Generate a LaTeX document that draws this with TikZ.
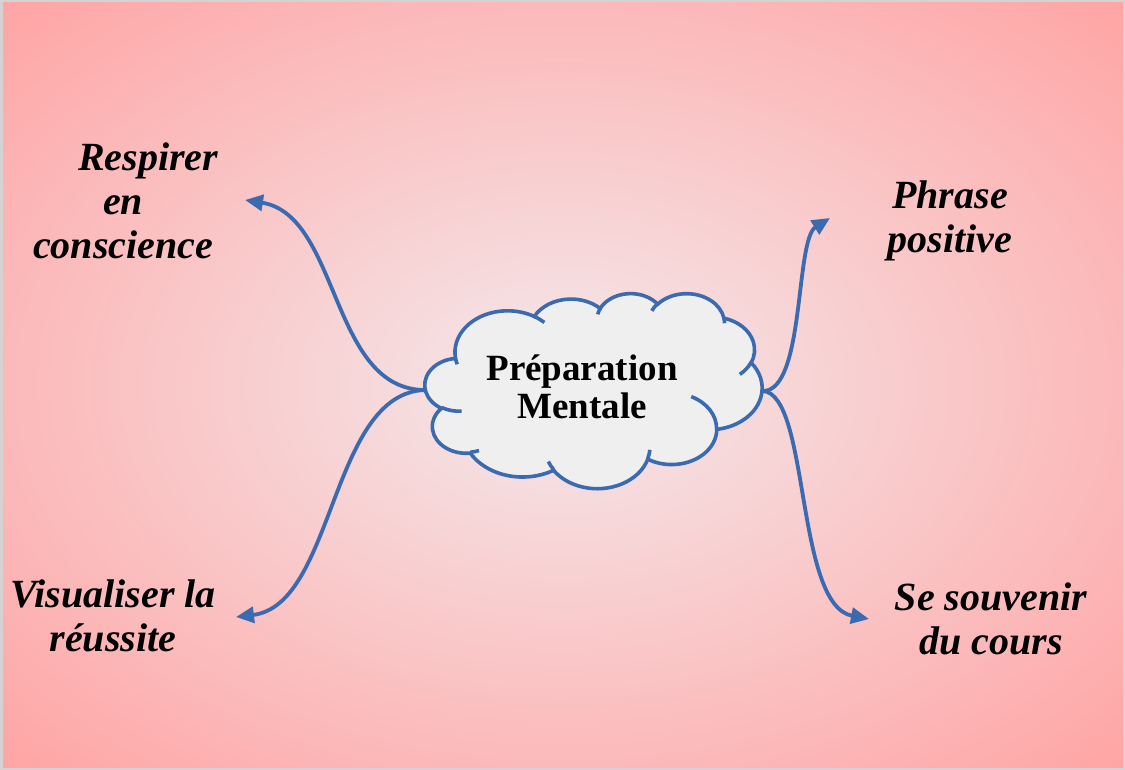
\documentclass[tikz,border=0pt]{standalone}
\usepackage{fontspec}
\setmainfont{Liberation Serif}
\usetikzlibrary{arrows.meta}
\definecolor{bgin}{RGB}{244,233,235}
\definecolor{bgout}{RGB}{255,164,164}
\definecolor{cblue}{RGB}{58,106,176}
\definecolor{cfill}{RGB}{239,239,239}
\definecolor{framegray}{RGB}{214,210,210}
\pgfdeclareradialshading{bgshade}{\pgfpoint{0bp}{0bp}}{color(0bp)=(bgin); color(35.4bp)=(bgout); color(50bp)=(bgout)}
\tikzset{
  ooarc/.style n args={4}{x radius=#1, y radius=#2,
    start angle={atan2((#1)*sin(#3),(#2)*cos(#3))},
    delta angle={mod(atan2((#1)*sin((#3)+(#4)),(#2)*cos((#3)+(#4)))-atan2((#1)*sin(#3),(#2)*cos(#3))+900,360)-180}},
  conn/.style={draw=cblue, line width=3.8pt, -{Triangle[length=18pt,width=16pt]}},
  lbl/.style={inner sep=0pt, font=\fontsize{40}{44}\selectfont\bfseries\itshape},
  ctext/.style={inner sep=0pt, align=center, font=\fontsize{37}{38}\selectfont\bfseries},
  cloudline/.style={draw=cblue, line width=3.6pt},
}
\begin{document}
\begin{tikzpicture}[x=1pt, y=-1pt]
\useasboundingbox (0,0) rectangle (1125,770);
\shade[shading=bgshade] (0,0) rectangle (1125,770);
\draw[framegray, line width=2.5pt] (1.25,1.25) rectangle (1123.75,768.75);

% hubs and arrow ends
\coordinate (hubL) at (425,390);
\coordinate (hubR) at (763,391);
\coordinate (tipRes) at (245,200);
\coordinate (tipVis) at (236,617);
\coordinate (tipPhr) at (830,218);
\coordinate (tipSou) at (869,619);

\draw[conn] (hubL) .. controls (330,390) and (340,215) .. (tipRes);
\draw[conn] (hubL) .. controls (330,393) and (335,605) .. (tipVis);
\draw[conn] (hubR) .. controls (805,391) and (795,240) .. (tipPhr);
\draw[conn] (hubR) .. controls (810,395) and (795,605) .. (tipSou);

% cloud
\begin{scope}[shift={(425pt,-293pt)}, x=3.37pt, y=-1.95pt]
\filldraw[fill=cfill, cloudline] (9.028,33.264)
  arc[ooarc={15.632}{21.273}{-190.487}{123.781}]
  arc[ooarc={12.345}{16.822}{-144.102}{89.945}]
  arc[ooarc={10.104}{13.762}{-145.808}{99.723}]
  arc[ooarc={11.243}{15.266}{-130.986}{117.242}]
  arc[ooarc={12.345}{16.836}{-78.709}{109.027}]
  arc[ooarc={15.683}{21.343}{-46.267}{130.269}]
  arc[ooarc={13.391}{18.211}{0.625}{114.033}]
  arc[ooarc={15.630}{21.331}{22.452}{115.173}]
  arc[ooarc={17.870}{24.405}{66.243}{75.711}]
  arc[ooarc={10.093}{13.699}{-274.942}{146.736}]
  arc[ooarc={10.058}{13.762}{-246.829}{152.519}]
  -- cycle;
\draw[cloudline]
  (10.863,60.595) arc[ooarc={10.058}{13.762}{86.742}{26.430}]
  (16.037,80.785) arc[ooarc={10.093}{13.699}{73.610}{11.447}]
  (38.144,90.486) arc[ooarc={15.630}{21.331}{137.624}{14.081}]
  (66.729,80.442) arc[ooarc={15.630}{21.331}{6.453}{15.998}]
  (79.002,53.134) arc[ooarc={13.391}{18.211}{-70.292}{70.917}]
  (96.755,35.542) arc[ooarc={12.345}{16.836}{30.318}{27.752}]
  (88.713,12.560) arc[ooarc={11.243}{15.266}{-13.744}{14.859}]
  (67.310,9.148) arc[ooarc={11.243}{15.266}{-149.181}{18.195}]
  (51.252,10.926) arc[ooarc={10.104}{13.762}{-163.494}{17.686}]
  (32.407,12.019) arc[ooarc={15.632}{21.273}{-66.707}{12.319}]
  (9.553,36.549) arc[ooarc={15.632}{21.273}{157.654}{11.858}];
\end{scope}

\node[ctext, anchor=north] (prep) at (582,353.4) {\strut Préparation\\\strut Mentale};

\node[lbl, anchor=north west, align=left] (resp) at (33,139.2)
  {\strut\hspace*{45pt}Respirer\\\strut\hspace*{70pt}en\\\strut conscience};
\node[lbl, anchor=north, align=center] (phrase) at (950,177.2)
  {\strut Phrase\\\strut positive};
\node[lbl, anchor=north, align=center] (souv) at (991,579.2)
  {\strut Se souvenir\\\strut du cours};
\node[lbl, anchor=north, align=center] (visu) at (113,576.2)
  {\strut Visualiser la\\\strut réussite};
\end{tikzpicture}
\end{document}
